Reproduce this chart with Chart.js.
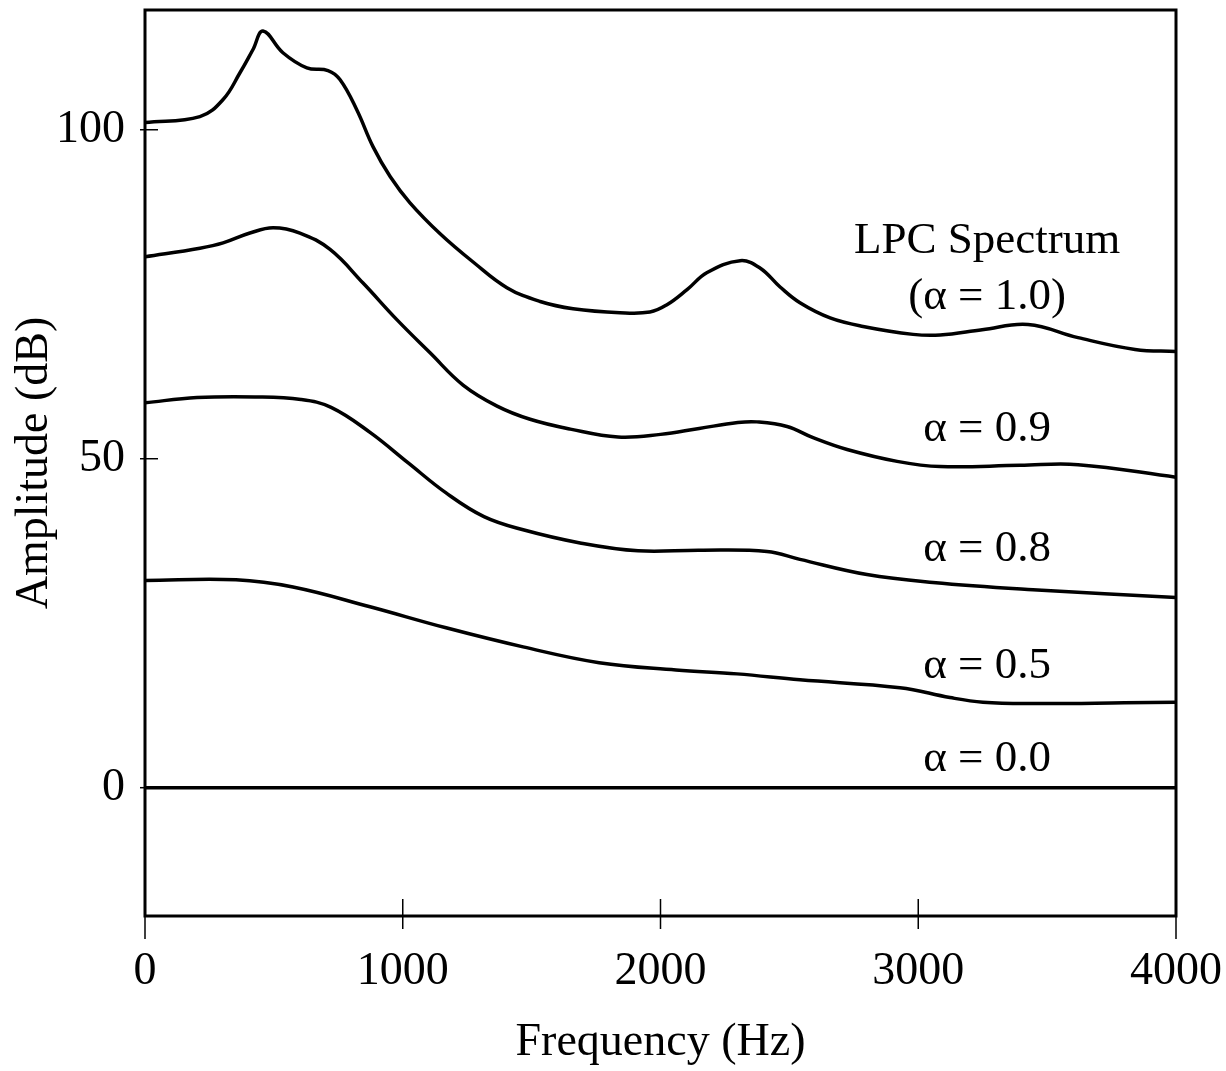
<!DOCTYPE html>
<html>
<head>
<meta charset="utf-8">
<script src="https://cdn.jsdelivr.net/npm/chart.js@4.4.1/dist/chart.umd.min.js"></script>
<style>
  body { margin: 0; background: #fff; }
</style>
</head>
<body>
<canvas id="lpcChart" width="1226" height="1071"></canvas>
<script>
// data (frequency in Hz, amplitude in dB)
const freq10 = [0, 213, 303, 369, 419, 458, 535, 628, 710, 757, 822, 885, 951, 1028, 1145, 1273, 1404, 1533, 1661, 1843, 1959, 2025, 2103, 2181, 2309, 2386, 2464, 2541, 2658, 2786, 2980, 3085, 3248, 3426, 3620, 3841, 4000];
const amp10 = [101.1, 102.0, 104.6, 108.7, 112.2, 115.0, 111.7, 109.4, 109.0, 107.6, 103.0, 97.4, 92.9, 88.9, 84.2, 79.9, 76.0, 73.9, 72.8, 72.2, 72.3, 73.4, 75.7, 78.3, 80.1, 79.0, 76.1, 73.7, 71.4, 70.1, 68.9, 68.8, 69.6, 70.4, 68.4, 66.6, 66.3];

const freq09 = [0, 213, 303, 407, 497, 601, 718, 846, 978, 1106, 1234, 1366, 1494, 1650, 1835, 2000, 2150, 2300, 2374, 2491, 2592, 2724, 2918, 3085, 3395, 3620, 4000];
const amp09 = [80.7, 82.0, 82.8, 84.3, 85.1, 84.3, 81.8, 76.7, 71.1, 66.1, 61.2, 58.0, 56.0, 54.5, 53.3, 53.7, 54.6, 55.5, 55.6, 54.9, 53.2, 51.4, 49.6, 48.8, 49.0, 49.1, 47.2];

const freq08 = [0, 202, 427, 605, 722, 873, 1020, 1168, 1315, 1467, 1688, 1913, 2153, 2413, 2541, 2801, 3057, 3445, 4000];
const amp08 = [58.5, 59.3, 59.4, 59.0, 57.8, 54.0, 49.4, 44.8, 41.2, 39.2, 37.2, 36.0, 36.1, 35.9, 34.7, 32.4, 31.2, 30.1, 28.9];

const freq05 = [0, 353, 574, 873, 1168, 1467, 1762, 2060, 2297, 2541, 2929, 3123, 3251, 3445, 3800, 4000];
const amp05 = [31.5, 31.6, 30.5, 27.5, 24.3, 21.4, 19.0, 17.9, 17.3, 16.4, 15.2, 13.7, 13.0, 12.8, 12.9, 13.0];

const freq00 = [0, 4000];
const amp00 = [0, 0];

const xTicks = [0, 1000, 2000, 3000, 4000];
const yTicks = [0, 50, 100];

// curve labels: text, x (Hz), y (dB)
const labelText = ['LPC Spectrum', '(\u03b1 = 1.0)', '\u03b1 = 0.9', '\u03b1 = 0.8', '\u03b1 = 0.5', '\u03b1 = 0.0'];
const labelX = [3267, 3267, 3267, 3267, 3267, 3267];
const labelY = [83.1, 74.5, 54.5, 36.2, 18.4, 4.3];

const serif = 'Liberation Serif';

function toPoints(xs, ys) {
  return xs.map((x, i) => ({ x: x, y: ys[i] }));
}

function curve(xs, ys) {
  return {
    data: toPoints(xs, ys),
    borderColor: '#000',
    borderWidth: 3.5,
    pointRadius: 0,
    tension: 0.4,
    fill: false
  };
}

// no extra room for overflowing tick labels, the plot box is fixed
function fixAxis(s, size, horizontal) {
  if (horizontal) s.height = size; else s.width = size;
  s.paddingLeft = 0;
  s.paddingRight = 0;
  s.paddingTop = 0;
  s.paddingBottom = 0;
}

// frame, crossing tick marks and the curve labels
const framePlugin = {
  id: 'frame',
  afterDraw(chart) {
    const ctx = chart.ctx;
    const a = chart.chartArea;
    const xs = chart.scales.x;
    const ys = chart.scales.y;
    ctx.save();
    ctx.strokeStyle = '#000';
    ctx.lineWidth = 3;
    ctx.strokeRect(a.left, a.top, a.right - a.left, a.bottom - a.top);

    ctx.lineWidth = 1.5;
    xTicks.forEach((v, i) => {
      const px = xs.getPixelForValue(v);
      ctx.beginPath();
      if (i === 0 || i === xTicks.length - 1) {
        ctx.moveTo(px, a.bottom);
        ctx.lineTo(px, a.bottom + 23);
      } else {
        ctx.moveTo(px, a.bottom - 17);
        ctx.lineTo(px, a.bottom + 13);
      }
      ctx.stroke();
    });
    yTicks.forEach(v => {
      const py = ys.getPixelForValue(v);
      ctx.beginPath();
      ctx.moveTo(a.left - 5, py);
      ctx.lineTo(a.left + 13, py);
      ctx.stroke();
    });

    ctx.fillStyle = '#000';
    ctx.font = '45px "' + serif + '"';
    ctx.textAlign = 'center';
    ctx.textBaseline = 'middle';
    labelText.forEach((t, i) => {
      ctx.fillText(t, xs.getPixelForValue(labelX[i]), ys.getPixelForValue(labelY[i]));
    });
    ctx.restore();
  }
};

const lpcCtx = document.getElementById('lpcChart').getContext('2d');
const lpcChart = new Chart(lpcCtx, {
  type: 'line',
  data: {
    datasets: [
      curve(freq10, amp10),
      curve(freq09, amp09),
      curve(freq08, amp08),
      curve(freq05, amp05),
      curve(freq00, amp00)
    ]
  },
  options: {
    responsive: false,
    animation: false,
    layout: { padding: { top: 10, right: 50, bottom: 0, left: 0 } },
    plugins: {
      legend: { display: false },
      tooltip: { enabled: false }
    },
    scales: {
      x: {
        type: 'linear',
        min: 0,
        max: 4000,
        afterBuildTicks: s => { s.ticks = xTicks.map(v => ({ value: v })); },
        afterFit: s => fixAxis(s, 155, true),
        grid: { display: false, drawTicks: false },
        border: { display: false },
        ticks: {
          color: '#000',
          padding: 28,
          maxRotation: 0,
          autoSkip: false,
          callback: v => String(v),
          font: { family: serif, size: 46 }
        },
        title: {
          display: true,
          text: 'Frequency (Hz)',
          color: '#000',
          padding: { top: 0, bottom: 0 },
          font: { family: serif, size: 46 }
        }
      },
      y: {
        min: -19.5,
        max: 118.2,
        afterBuildTicks: s => { s.ticks = yTicks.map(v => ({ value: v })); },
        afterFit: s => fixAxis(s, 145, false),
        grid: { display: false, drawTicks: false },
        border: { display: false },
        ticks: {
          color: '#000',
          padding: 20,
          callback: v => String(v),
          font: { family: serif, size: 46 }
        },
        title: {
          display: true,
          text: 'Amplitude (dB)',
          color: '#000',
          padding: { top: 7, bottom: 0 },
          font: { family: serif, size: 46 }
        }
      }
    }
  },
  plugins: [framePlugin]
});
</script>
</body>
</html>
